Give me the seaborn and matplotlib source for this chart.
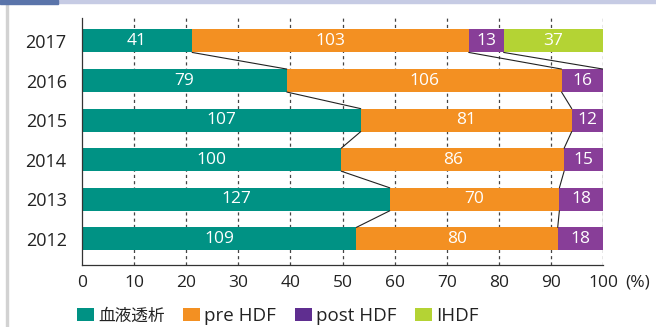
import numpy as np
import pandas as pd
import seaborn as sns
import matplotlib.pyplot as plt
from matplotlib.patches import Patch, Rectangle

# Treatment counts per year
years = ["2017", "2016", "2015", "2014", "2013", "2012"]
categories = ["血液透析", "pre HDF", "post HDF", "IHDF"]
hd = [41, 79, 107, 100, 127, 109]
pre_hdf = [103, 106, 81, 86, 70, 80]
post_hdf = [13, 16, 12, 15, 18, 18]
ihdf = [37, 0, 0, 0, 0, 0]
x_ticks = [0, 10, 20, 30, 40, 50, 60, 70, 80, 90, 100]

bar_colors = ["#009284", "#f39022", "#883e98", "#b4d334"]
legend_colors = ["#009284", "#f39022", "#5f2e90", "#b4d334"]

sns.set_theme(style="white")
plt.rcParams["font.family"] = ["Open Sans", "Noto Sans CJK JP", "DejaVu Sans"]

counts = np.array([hd, pre_hdf, post_hdf, ihdf], dtype=float)  # (cat, year)
totals = counts.sum(axis=0)
pct = counts / totals * 100
cum = np.cumsum(pct, axis=0)

fig = plt.figure(figsize=(6.56, 3.27), dpi=100)
ax = fig.add_axes([82 / 656, 1 - 265 / 327, 521 / 656, (265 - 18) / 327])

# vertical dashed grid behind bars
for xv in x_ticks[1:]:
    ax.axvline(xv, color="#444444", lw=0.9, ls=(0, (2.5, 2.5)), zorder=0)

bar_h = 0.58
# stacked bars drawn as overlapping cumulative totals, widest first
for k in range(len(categories) - 1, -1, -1):
    df = pd.DataFrame({"year": years, "value": cum[k]})
    sns.barplot(data=df, x="value", y="year", order=years, orient="h",
                color=bar_colors[k], width=bar_h, saturation=1,
                edgecolor="none", linewidth=0, ax=ax, zorder=2)

# connector lines between consecutive years at category boundaries
for i in range(len(years) - 1):
    for k in range(len(categories) - 1):
        ax.plot([cum[k, i], cum[k, i + 1]],
                [i + bar_h / 2, i + 1 - bar_h / 2],
                color="#222222", lw=0.8, zorder=3)

# value labels centred in each segment
for i in range(len(years)):
    for k in range(len(categories)):
        v = counts[k, i]
        if v <= 0:
            continue
        left = cum[k, i] - pct[k, i]
        ax.text(left + pct[k, i] / 2, i, f"{int(v)}", color="white",
                ha="center", va="center", fontsize=12.5, zorder=4)

ax.set_xlim(0, 100)
ax.set_ylim(5 + 0.66, -0.58)
ax.set_xticks(x_ticks)
ax.set_xlabel("")
ax.set_ylabel("")
ax.tick_params(axis="x", length=3.6, width=0.9, color="#333333", pad=3.5,
               labelsize=12.5, labelcolor="#222222", direction="out")
ax.tick_params(axis="y", length=0, pad=11, labelsize=13, labelcolor="#222222")
for s in ["top", "right"]:
    ax.spines[s].set_visible(False)
for s in ["left", "bottom"]:
    ax.spines[s].set_color("#333333")
    ax.spines[s].set_linewidth(0.9)
ax.patch.set_alpha(0)

ax.annotate("(%)", xy=(1, 0), xycoords="axes fraction", xytext=(16, -7.1),
            textcoords="offset points", ha="left", va="top", fontsize=12.5,
            color="#222222")

handles = [Patch(facecolor=c, edgecolor="none") for c in legend_colors]
leg = fig.legend(handles, categories, loc="center left",
                 bbox_to_anchor=(77 / 656, 1 - 316 / 327), ncol=4,
                 frameon=False, fontsize=13.5, handlelength=0.9,
                 handleheight=0.75, handletextpad=0.22, columnspacing=1.0,
                 borderaxespad=0, borderpad=0, labelcolor="#222222")
leg.get_texts()[0].set_fontsize(12)

# page frame decoration
fig.patches.append(Rectangle((0, 1 - 3 / 327), 1, 3 / 327,
                             transform=fig.transFigure, color="#c6cbe4", zorder=0))
fig.patches.append(Rectangle((0, 1 - 4 / 327), 58 / 656, 4 / 327,
                             transform=fig.transFigure, color="#5a74aa", zorder=1))
fig.patches.append(Rectangle((6 / 656, 0), 2 / 656, 1 - 4 / 327,
                             transform=fig.transFigure, color="#d2d2d2", zorder=0))

fig.savefig("out.png", dpi=100)
